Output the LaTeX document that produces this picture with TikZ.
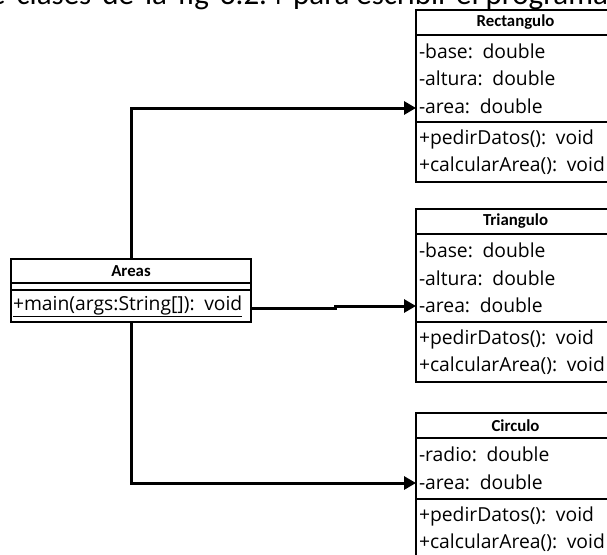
\documentclass[tikz,border=0pt]{standalone}
\usepackage{fontspec}
\setmainfont{Open Sans}
\newfontfamily\calibrifont{Carlito}
\usetikzlibrary{positioning,arrows.meta}

\begin{document}
\begin{tikzpicture}[x=1pt, y=1pt,
    pageline/.style={inner sep=0pt, font=\calibrifont\fontsize{31}{38}\selectfont},
    classtitle/.style={draw, line width=1.2pt, outer sep=0pt, inner sep=0pt, minimum height=25pt, text width=199pt, align=center, font=\calibrifont\bfseries\fontsize{16.8}{20}\selectfont},
    classpart/.style={draw, line width=1.2pt, outer sep=0pt, inner xsep=3pt, inner ysep=0pt, text width=193pt, align=left, font=\fontsize{19.3}{27.5}\selectfont},
    assoc/.style={line width=3pt, -{Triangle[length=12pt, width=13pt]}}]
    \useasboundingbox (0,0) rectangle (607,-554);
    \clip (0,0) rectangle (607,-554);

    % Text line of the page above the figure
    \node[pageline, anchor=base east] (pagetexta) at (283,-5) {\spaceskip=11pt de clases de la fig 3.2.4};
    \node[pageline, anchor=base west] (pagetextb) at (293,-5) {para escribir el programa};

    % Rectangulo
    \node[classtitle, anchor=north west] (rtitle) at (416,-10) {Rectangulo};
    \node[classpart, minimum height=87pt, below=0pt of rtitle] (rattr) {-base: double\\-altura: double\\-area: double};
    \node[classpart, minimum height=60pt, below=0pt of rattr] (rops) {+pedirDatos(): void\\+calcularArea(): void};

    % Triangulo
    \node[classtitle, anchor=north west] (ttitle) at (416,-209) {Triangulo};
    \node[classpart, minimum height=88pt, below=0pt of ttitle] (tattr) {-base: double\\-altura: double\\-area: double};
    \node[classpart, minimum height=60pt, below=0pt of tattr] (tops) {+pedirDatos(): void\\+calcularArea(): void};

    % Circulo
    \node[classtitle, anchor=north west] (ctitle) at (416,-413) {Circulo};
    \node[classpart, minimum height=61pt, below=0pt of ctitle] (cattr) {-radio: double\\-area: double};
    \node[classpart, minimum height=60pt, below=0pt of cattr] (cops) {+pedirDatos(): void\\+calcularArea(): void};

    % Areas
    \node[classtitle, text width=240pt, minimum height=24pt, anchor=north west] (atitle) at (11,-259) {Areas};
    \node[classpart, text width=234pt, minimum height=7pt, below=0pt of atitle] (aattr) {};
    \node[classpart, inner xsep=2pt, text width=236pt, minimum height=32pt, below=0pt of aattr] (aops) {\underline{+main(args:String[]): void}};

    % Associations
    \draw[assoc] (atitle.north) |- ([yshift=14pt]rattr.south west);
    \draw[assoc] ([yshift=-2pt]aops.east) -- ++(84,0) |- ([yshift=16pt]tattr.south west);
    \draw[assoc] (aops.south) |- ([yshift=16pt]cattr.south west);
\end{tikzpicture}
\end{document}
